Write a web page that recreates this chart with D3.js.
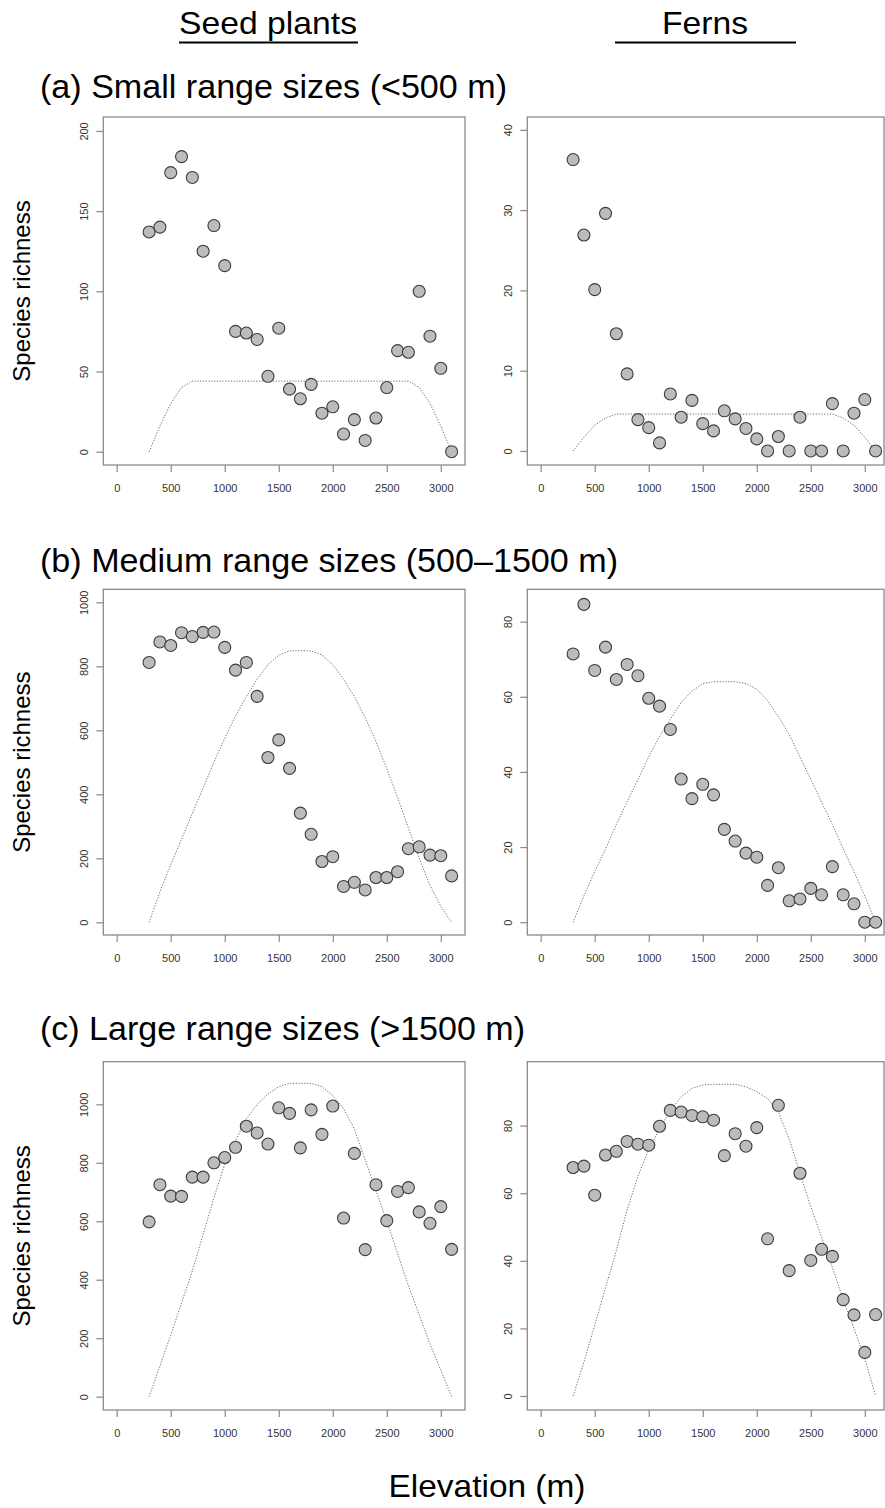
<!DOCTYPE html>
<html>
<head>
<meta charset="utf-8">
<script src="https://cdn.jsdelivr.net/npm/d3@7"></script>
<style>
  body { margin: 0; background: #fff; }
  svg { display: block; font-family: "Liberation Sans", Arial, sans-serif; }
</style>
</head>
<body>
<svg id="chart" width="885" height="1508"></svg>
<script>
// elevation bands (m)
var elev = [300, 400, 500, 600, 700, 800, 900, 1000, 1100, 1200, 1300, 1400, 1500, 1600, 1700,
            1800, 1900, 2000, 2100, 2200, 2300, 2400, 2500, 2600, 2700, 2800, 2900, 3000, 3100];

// (a) small range sizes
var seedSmall = [137, 140, 174, 184, 171, 125, 141, 116, 75, 74, 70, 47, 77, 39, 33,
                 42, 24, 28, 11, 20, 7, 21, 40, 63, 62, 100, 72, 52, 0];
var seedSmallNull = [0, 16, 30, 40, 44, 44, 44, 44, 44, 44, 44, 44, 44, 44, 44,
                     44, 44, 44, 44, 44, 44, 44, 44, 44, 44, 40, 30, 16, 0];
var fernSmall = [36.3, 26.9, 20.1, 29.6, 14.6, 9.6, 3.9, 2.9, 1, 7.1, 4.2, 6.3, 3.4, 2.5, 5,
                 4, 2.8, 1.5, 0, 1.8, 0, 4.2, 0, 0, 5.9, 0, 4.7, 6.4, 0];
var fernSmallNull = [0, 1.7, 3.2, 4.1, 4.6, 4.6, 4.6, 4.6, 4.6, 4.6, 4.6, 4.6, 4.6, 4.6, 4.6,
                     4.6, 4.6, 4.6, 4.6, 4.6, 4.6, 4.6, 4.6, 4.6, 4.6, 4.1, 3.2, 1.7, 0];

// (b) medium range sizes
var seedMedium = [812, 876, 865, 905, 893, 906, 907, 859, 788, 812, 706, 515, 570, 481, 341,
                  275, 190, 205, 112, 125, 101, 140, 140, 158, 230, 236, 210, 208, 145];
var seedMediumNull = [0, 95, 180, 260, 340, 420, 500, 575, 645, 705, 760, 805, 835, 848, 849,
                      848, 835, 805, 760, 705, 640, 565, 480, 390, 295, 200, 115, 50, 0];
var fernMedium = [71.4, 84.6, 67, 73.2, 64.6, 68.6, 65.6, 59.6, 57.5, 51.3, 38.1, 32.9, 36.7, 33.9, 24.7,
                  21.6, 18.4, 17.3, 9.8, 14.5, 5.7, 6.2, 9, 7.3, 14.8, 7.3, 4.9, 0, 0];
var fernMediumNull = [0, 7, 13.5, 19.5, 26, 32, 38, 44, 49.5, 54, 58.5, 61.5, 63.5, 64, 64,
                      64, 63.5, 62, 59, 54.7, 50, 44, 38, 32, 26, 19.5, 13.5, 7, 0];

// (c) large range sizes
var seedLarge = [598, 725, 686, 685, 751, 751, 800, 818, 853, 925, 902, 864, 988, 969, 851,
                 981, 897, 994, 611, 832, 503, 725, 602, 702, 715, 632, 593, 650, 504];
var seedLargeNull = [0, 105, 210, 320, 430, 555, 680, 795, 875, 950, 1000, 1035, 1060, 1072, 1072,
                     1072, 1060, 1030, 985, 915, 810, 705, 600, 490, 380, 280, 180, 90, 0];
var fernLarge = [67.6, 68, 59.4, 71.3, 72.4, 75.3, 74.5, 74.2, 79.8, 84.5, 84, 83, 82.6, 81.6, 71.1,
                 77.6, 73.9, 79.4, 46.5, 86, 37.1, 65.9, 40.1, 43.4, 41.3, 28.5, 24, 12.9, 24.1];
var fernLargeNull = [0, 10, 21, 32, 43, 55, 65, 73, 79, 84.5, 88.5, 91, 92, 92.2, 92.2,
                     92.2, 91.5, 90, 88, 84, 76, 66, 56, 47, 38, 28.5, 20, 11, 0];

// tick labels
var xTicks = [0, 500, 1000, 1500, 2000, 2500, 3000];
var seedSmallTicks = [0, 50, 100, 150, 200];
var fernSmallTicks = [0, 10, 20, 30, 40];
var seedMediumTicks = [0, 200, 400, 600, 800, 1000];
var fernMediumTicks = [0, 20, 40, 60, 80];
var seedLargeTicks = [0, 200, 400, 600, 800, 1000];
var fernLargeTicks = [0, 20, 40, 60, 80];

var svg = d3.select("#chart");

//---------------------------- layout -------------------------------------
var cols = [ {x0: 103.3, x1: 465}, {x0: 527.3, x1: 884} ];
var rows = [ {y0: 117, y1: 465}, {y0: 589.3, y1: 935}, {y0: 1061.7, y1: 1410} ];
var xDomain = [-124, 3224];

var panels = [
  {row: 0, col: 0, obs: seedSmall,  nul: seedSmallNull,  ticks: seedSmallTicks,  ydom: [-8.3, 208.7]},
  {row: 0, col: 1, obs: fernSmall,  nul: fernSmallNull,  ticks: fernSmallTicks,  ydom: [-1.75, 41.6]},
  {row: 1, col: 0, obs: seedMedium, nul: seedMediumNull, ticks: seedMediumTicks, ydom: [-39.7, 1040.6]},
  {row: 1, col: 1, obs: fernMedium, nul: fernMediumNull, ticks: fernMediumTicks, ydom: [-3.4, 88.6]},
  {row: 2, col: 0, obs: seedLarge,  nul: seedLargeNull,  ticks: seedLargeTicks,  ydom: [-45.5, 1145.7]},
  {row: 2, col: 1, obs: fernLarge,  nul: fernLargeNull,  ticks: fernLargeTicks,  ydom: [-4.14, 98.9]}
];

panels.forEach(function(p) {
  var c = cols[p.col], r = rows[p.row];
  var x = d3.scaleLinear().domain(xDomain).range([c.x0, c.x0 + 361.7]);
  var y = d3.scaleLinear().domain(p.ydom).range([r.y1, r.y0]);
  var g = svg.append("g");

  // null model (dotted)
  var line = d3.line()
    .x(function(d, i) { return x(elev[i]); })
    .y(function(d) { return y(d); });
  g.append("path")
    .datum(p.nul)
    .attr("d", line)
    .attr("fill", "none")
    .attr("stroke", "#5a5a5a")
    .attr("stroke-width", 0.9)
    .attr("stroke-dasharray", "1.2,1.6");

  // observed richness
  g.selectAll("circle")
    .data(p.obs)
    .enter().append("circle")
      .attr("cx", function(d, i) { return x(elev[i]); })
      .attr("cy", function(d) { return y(d); })
      .attr("r", 6)
      .attr("fill", "#bcbcbc")
      .attr("stroke", "#3c3c3c")
      .attr("stroke-width", 1.1);

  // box
  g.append("rect")
    .attr("x", c.x0).attr("y", r.y0)
    .attr("width", c.x1 - c.x0).attr("height", r.y1 - r.y0)
    .attr("fill", "none").attr("stroke", "#8a8a8a").attr("stroke-width", 1.3);

  // x axis
  var xa = g.append("g")
    .attr("transform", "translate(0," + r.y1 + ")")
    .call(d3.axisBottom(x).tickValues(xTicks).tickSize(7).tickPadding(12).tickFormat(d3.format("d")));
  xa.select(".domain").remove();

  // y axis, labels turned on their side
  var ya = g.append("g")
    .attr("transform", "translate(" + c.x0 + ",0)")
    .call(d3.axisLeft(y).tickValues(p.ticks).tickSize(7).tickFormat(d3.format("d")));
  ya.select(".domain").remove();
  ya.selectAll(".tick text")
    .attr("transform", "rotate(-90)")
    .attr("x", 0).attr("y", -15).attr("dy", 0)
    .attr("text-anchor", "middle");

  g.selectAll(".tick line").attr("stroke", "#8a8a8a").attr("stroke-width", 1.2);
  g.selectAll(".tick text")
    .attr("fill", "#333")
    .style("font-family", "'Liberation Sans', Arial, sans-serif")
    .style("font-size", "11px");
});

//---------------------------- texts -------------------------------------
svg.append("text").attr("x", 179).attr("y", 34)
  .attr("font-size", 32).attr("textLength", 178).attr("lengthAdjust", "spacingAndGlyphs")
  .text("Seed plants");
svg.append("line").attr("x1", 179).attr("x2", 358).attr("y1", 42.5).attr("y2", 42.5)
  .attr("stroke", "#000").attr("stroke-width", 2);

svg.append("text").attr("x", 662).attr("y", 34)
  .attr("font-size", 32).attr("textLength", 86).attr("lengthAdjust", "spacingAndGlyphs")
  .text("Ferns");
svg.append("line").attr("x1", 615).attr("x2", 796).attr("y1", 42.5).attr("y2", 42.5)
  .attr("stroke", "#000").attr("stroke-width", 2);

var titles = ["(a) Small range sizes (<500 m)", "(b) Medium range sizes (500\u20131500 m)", "(c) Large range sizes (>1500 m)"];
var titleY = [98, 572, 1040];
var titleW = [467, 578, 485];
titles.forEach(function(t, i) {
  svg.append("text").attr("x", 40).attr("y", titleY[i])
    .attr("font-size", 34).attr("textLength", titleW[i]).attr("lengthAdjust", "spacingAndGlyphs")
    .text(t);
});

rows.forEach(function(r) {
  svg.append("text")
    .attr("transform", "translate(30," + ((r.y0 + r.y1) / 2) + ") rotate(-90)")
    .attr("text-anchor", "middle")
    .attr("font-size", 24)
    .text("Species richness");
});

svg.append("text").attr("x", 487).attr("y", 1497)
  .attr("text-anchor", "middle")
  .attr("font-size", 32).attr("textLength", 197).attr("lengthAdjust", "spacingAndGlyphs")
  .text("Elevation (m)");
</script>
</body>
</html>
